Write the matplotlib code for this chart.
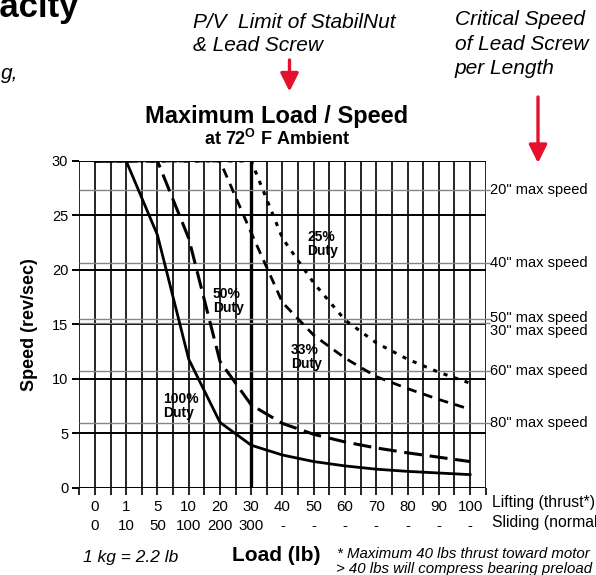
import matplotlib
matplotlib.use("Agg")
import matplotlib.pyplot as plt
import numpy as np

plt.rcParams['font.family'] = 'Liberation Sans'
plt.rcParams['mathtext.fontset'] = 'custom'
plt.rcParams['mathtext.rm'] = 'Liberation Sans'
plt.rcParams['mathtext.bf'] = 'Liberation Sans:bold'
plt.rcParams['lines.scale_dashes'] = False

# load labels (two rows under the x axis)
lifting = ['0', '1', '5', '10', '20', '30', '40', '50', '60', '70', '80', '90', '100']
sliding = ['0', '10', '50', '100', '200', '300', '-', '-', '-', '-', '-', '-', '-']

# speed (rev/sec) at each load label
duty_100 = [30, 30, 23.2, 11.8, 6.0, 3.9, 3.0, 2.4, 2.0, 1.7, 1.5, 1.35, 1.2]
duty_50 = [30, 30, 30, 22.9, 11.6, 7.6, 5.9, 4.9, 4.2, 3.65, 3.2, 2.8, 2.4]
duty_33 = [30, 30, 30, 30, 30, 23.4, 17.0, 14.0, 11.9, 10.2, 9.1, 8.1, 7.2]
duty_25 = [30, 30, 30, 30, 30, 30, 22.9, 18.8, 15.4, 13.3, 11.8, 10.6, 9.6]

# critical speed per screw length
crit_labels = ['20" max speed', '40" max speed', '50" max speed',
               '30" max speed', '60" max speed', '80" max speed']
crit_speed = [27.35, 20.65, 15.5, 15.1, 10.72, 5.92]

W, H = 596, 575
def fx(px):
    return px / W
def fy(py):
    return 1 - py / H

fig = plt.figure(figsize=(W / 100, H / 100), dpi=100)
ax = fig.add_axes([fx(79.3), fy(487.7), 406.4 / W, 326.7 / H])

n_slots = 2 * len(lifting)  # grid has a line every half label
pos = np.arange(1, n_slots, 2)

# grid
ax.vlines(np.arange(0, n_slots + 1), 0, 30, color='black', lw=1.2, zorder=1)
ax.vlines(pos[5], 0, 30, color='black', lw=2.4, zorder=1)
ax.hlines(np.arange(0, 31, 5), 0, n_slots, color='black', lw=1.4, zorder=1)
ax.hlines(crit_speed, 0, n_slots + 0.3, color='#858585', lw=1.0, zorder=1, clip_on=False)
for lab, s in zip(crit_labels, crit_speed):
    ty = s
    if lab.startswith('50'):
        ty = s + 0.05
    if lab.startswith('30'):
        ty = s - 0.75  # pushed down so it sits under the 50" label
    ax.text(n_slots + 0.3, ty, lab, fontsize=10.5, ha='left', va='center', linespacing=1.0)

# duty curves
ax.plot(pos, duty_100, color='black', lw=2.0, zorder=3)
ax.plot(pos, duty_50, color='black', lw=2.2, ls=(0, (13, 5.5)), zorder=3)
ax.plot(pos, duty_33, color='black', lw=2.0, ls=(0, (7, 5)), zorder=3)
ax.plot(pos, duty_25, color='black', lw=2.2, ls=(0, (3, 5)), zorder=3)

ax.text(14.57, 23.7, '25%\nDuty', fontsize=10, fontweight='bold', va='top', linespacing=1.0)
ax.text(8.55, 18.45, '50%\nDuty', fontsize=10, fontweight='bold', va='top', linespacing=1.0)
ax.text(13.54, 13.3, '33%\nDuty', fontsize=10, fontweight='bold', va='top', linespacing=1.0)
ax.text(5.36, 8.8, '100%\nDuty', fontsize=10, fontweight='bold', va='top', linespacing=1.0)

ax.set_xlim(0, n_slots)
ax.set_ylim(0, 30)
for sp in ax.spines.values():
    sp.set_visible(False)
ax.set_yticks(np.arange(0, 31, 5))
ax.tick_params(axis='y', length=5, width=1.4, labelsize=10.5, pad=3)
ax.set_xticks(np.arange(0, n_slots + 1))
xlabels = [''] * (n_slots + 1)
for i, p in enumerate(pos):
    xlabels[p] = lifting[i] + '\n' + sliding[i]
ax.set_xticklabels(xlabels, fontsize=10.8, linespacing=1.4)
ax.tick_params(axis='x', length=5, width=1.2, pad=4)

fig.text(fx(492), fy(503), 'Lifting (thrust*)', fontsize=11.3, va='center')
fig.text(fx(492), fy(523), 'Sliding (normal)', fontsize=11.3, va='center')

# titles and notes
fig.text(fx(277), fy(123.5), 'Maximum Load / Speed', fontsize=17, fontweight='bold',
         ha='center', va='baseline')
fig.text(fx(277), fy(145), r'at 72$^{\mathbf{O}}$ F Ambient', fontsize=13, fontweight='bold',
         ha='center', va='baseline')
fig.text(fx(29), fy(324.5), 'Speed (rev/sec)', fontsize=13, fontweight='bold',
         rotation=90, ha='center', va='center')

fig.text(fx(79), fy(17), 'Capacity', fontsize=25, fontweight='bold', ha='right', va='baseline')
fig.text(fx(18), fy(79), 'g,', fontsize=15, style='italic', ha='right', va='baseline')

for txt, yb in [('P/V  Limit of StabilNut', 28), ('& Lead Screw', 51)]:
    fig.text(fx(193), fy(yb), txt, fontsize=15, style='italic', va='baseline')
for txt, yb in [('Critical Speed', 25), ('of Lead Screw', 49.5), ('per Length', 74)]:
    fig.text(fx(455), fy(yb), txt, fontsize=15, style='italic', va='baseline')

red = '#e5102d'
arrow = dict(arrowstyle='-|>,head_length=1.1,head_width=0.55', color=red, lw=2.4,
             mutation_scale=10, shrinkA=0, shrinkB=0)
ax.annotate('', xy=(fx(289.5), fy(91.5)), xycoords='figure fraction',
            xytext=(fx(289.5), fy(60)), textcoords='figure fraction', arrowprops=arrow)
ax.annotate('', xy=(fx(538), fy(163)), xycoords='figure fraction',
            xytext=(fx(538), fy(97)), textcoords='figure fraction', arrowprops=arrow)

fig.text(fx(83), fy(562), '1 kg = 2.2 lb', fontsize=12.5, style='italic', va='baseline')
fig.text(fx(232), fy(561), 'Load (lb)', fontsize=15, fontweight='bold', va='baseline')
fig.text(fx(337), fy(557.5), '* Maximum 40 lbs thrust toward motor', fontsize=10.8,
         style='italic', va='baseline')
fig.text(fx(336), fy(573.5), '> 40 lbs will compress bearing preload', fontsize=10.8,
         style='italic', va='baseline')

fig.savefig('out.png', dpi=100)
